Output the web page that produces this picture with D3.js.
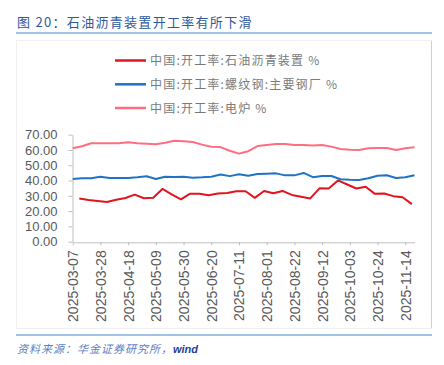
<!DOCTYPE html>
<html>
<head>
<meta charset="utf-8">
<script src="https://cdn.jsdelivr.net/npm/d3@7"></script>
<style>
  body { margin: 0; background: #fff; }
  svg { display: block; }
</style>
</head>
<body>
<svg id="chart"></svg>
<script>
var chartWidth = 444;
var chartHeight = 365;

// weekly dates (Fri) for the steel series
var steelDates = ['2025-03-07', '2025-03-14', '2025-03-21', '2025-03-28', '2025-04-04', '2025-04-11',
  '2025-04-18', '2025-04-25', '2025-05-02', '2025-05-09', '2025-05-16', '2025-05-23', '2025-05-30',
  '2025-06-06', '2025-06-13', '2025-06-20', '2025-06-27', '2025-07-04', '2025-07-11', '2025-07-18',
  '2025-07-25', '2025-08-01', '2025-08-08', '2025-08-15', '2025-08-22', '2025-08-29', '2025-09-05',
  '2025-09-12', '2025-09-19', '2025-09-26', '2025-10-03', '2025-10-10', '2025-10-17', '2025-10-24',
  '2025-10-31', '2025-11-07', '2025-11-14', '2025-11-21'];

// weekly dates (Wed) for asphalt
var asphaltDates = ['2025-03-12', '2025-03-19', '2025-03-26', '2025-04-02', '2025-04-09', '2025-04-16',
  '2025-04-23', '2025-04-30', '2025-05-07', '2025-05-14', '2025-05-21', '2025-05-28', '2025-06-04',
  '2025-06-11', '2025-06-18', '2025-06-25', '2025-07-02', '2025-07-09', '2025-07-16', '2025-07-23',
  '2025-07-30', '2025-08-06', '2025-08-13', '2025-08-20', '2025-08-27', '2025-09-03', '2025-09-10',
  '2025-09-17', '2025-09-24', '2025-10-01', '2025-10-08', '2025-10-15', '2025-10-22', '2025-10-29',
  '2025-11-05', '2025-11-12', '2025-11-19'];

var asphaltValues = [28.2, 27.3, 26.6, 26.0, 27.5, 28.6, 30.8, 28.4, 28.8, 34.5, 31.0, 27.7, 31.4,
  31.4, 30.4, 31.6, 31.9, 33.0, 33.0, 28.7, 33.2, 31.7, 33.2, 30.6, 29.4, 28.3, 34.9,
  34.8, 40.1, 37.4, 34.8, 35.9, 31.3, 31.5, 29.8, 29.1, 24.6];

var rebarValues = [41.0, 41.5, 41.5, 42.5, 41.7, 41.7, 41.7, 42.1, 42.8, 41.0, 42.5, 42.3, 42.5,
  41.9, 42.1, 42.5, 44.0, 42.9, 44.1, 43.2, 44.3, 44.5, 44.7, 43.4, 43.4, 45.0,
  42.2, 43.0, 43.0, 40.9, 40.5, 40.3, 41.5, 43.2, 43.5, 41.7, 42.2, 43.5];

var eafValues = [61.1, 62.4, 64.4, 64.4, 64.4, 64.4, 65.0, 64.4, 64.1, 63.7, 64.8, 66.1, 65.7,
  65.2, 63.5, 62.1, 61.9, 59.5, 57.6, 59.2, 62.6, 63.3, 63.9, 63.9, 63.3, 63.3,
  62.9, 63.3, 62.2, 60.7, 60.2, 60.0, 61.1, 61.3, 61.3, 60.0, 61.1, 61.8];

var seriesNames = ['中国:开工率:石油沥青装置 %', '中国:开工率:螺纹钢:主要钢厂 %', '中国:开工率:电炉 %'];
var seriesColors = ['#e2141f', '#1f73c4', '#ff6e80'];

var xTickLabels = ['2025-03-07', '2025-03-28', '2025-04-18', '2025-05-09', '2025-05-30', '2025-06-20',
  '2025-07-11', '2025-08-01', '2025-08-22', '2025-09-12', '2025-10-03', '2025-10-24', '2025-11-14'];
var yTickValues = [0, 10, 20, 30, 40, 50, 60, 70];

var parseDate = d3.timeParse('%Y-%m-%d');

var svg = d3.select('#chart')
  .attr('width', chartWidth)
  .attr('height', chartHeight);

// frame
svg.append('rect')
  .attr('x', 16.5).attr('y', 40.5)
  .attr('width', 415).attr('height', 288)
  .attr('fill', 'none')
  .attr('stroke', '#f0f0f0');
svg.append('line')
  .attr('x1', 431.5).attr('x2', 431.5)
  .attr('y1', 41).attr('y2', 328)
  .attr('stroke', '#cfcfcf');

// title
svg.append('text')
  .attr('x', 17).attr('y', 27)
  .attr('fill', '#2d5a9e')
  .attr('font-family', '"Noto Sans CJK SC", sans-serif')
  .attr('font-size', 13)
  .attr('letter-spacing', 1.3)
  .text('图 20：石油沥青装置开工率有所下滑');
svg.append('line')
  .attr('x1', 16).attr('x2', 432)
  .attr('y1', 33).attr('y2', 33)
  .attr('stroke', '#7fb0dd').attr('stroke-width', 1.5);

// footer
svg.append('line')
  .attr('x1', 16).attr('x2', 432)
  .attr('y1', 335).attr('y2', 335)
  .attr('stroke', '#7fb0dd').attr('stroke-width', 1.5);
var foot = svg.append('text')
  .attr('x', 17).attr('y', 353)
  .attr('font-family', '"Noto Sans CJK SC", sans-serif')
  .attr('font-size', 11)
  .attr('font-style', 'italic');
foot.append('tspan').attr('fill', '#5a7fc2').attr('letter-spacing', 1).text('资料来源：华金证券研究所，');
foot.append('tspan').attr('fill', '#1e3f96').attr('font-family', 'Liberation Sans, Arial, sans-serif')
  .attr('font-weight', 'bold').text('wind');

// scales
var xScale = d3.scaleTime()
  .domain([parseDate('2025-03-07'), parseDate('2025-11-21')])
  .range([72.7, 414.5]);

var yScale = d3.scaleLinear()
  .domain([0, 70])
  .range([241.7, 134.7]);

// y axis
var yAxis = svg.append('g')
  .attr('transform', 'translate(72.5, 0)')
  .call(d3.axisLeft(yScale)
    .tickValues(yTickValues)
    .tickSizeInner(4)
    .tickSizeOuter(0)
    .tickPadding(11)
    .tickFormat(d3.format('.2f')));
yAxis.select('.domain').attr('stroke', '#bfbfbf');
yAxis.selectAll('.tick line').attr('stroke', '#bfbfbf');
yAxis.selectAll('.tick text')
  .attr('fill', '#595959')
  .attr('font-family', 'Liberation Sans, Arial, sans-serif')
  .attr('font-size', 13);

// x axis
var xAxis = svg.append('g')
  .attr('transform', 'translate(0, 242.3)')
  .call(d3.axisBottom(xScale)
    .tickValues(xTickLabels.map(parseDate))
    .tickSizeInner(3)
    .tickSizeOuter(0)
    .tickFormat(d3.timeFormat('%Y-%m-%d')));
xAxis.select('.domain').attr('stroke', '#bfbfbf');
xAxis.selectAll('.tick line').attr('stroke', '#bfbfbf');
xAxis.selectAll('.tick text')
  .attr('fill', '#595959')
  .attr('font-family', 'Liberation Sans, Arial, sans-serif')
  .attr('font-size', 14)
  .attr('text-anchor', 'end')
  .attr('dy', '0.35em')
  .attr('transform', 'translate(0, 8) rotate(-90)')
  .attr('x', 0)
  .attr('y', 0);

// lines
var line = d3.line()
  .x(function(d) { return xScale(d[0]); })
  .y(function(d) { return yScale(d[1]); });

function zipSeries(dates, values) {
  return dates.map(function(d, i) { return [parseDate(d), values[i]]; });
}

var allSeries = [
  zipSeries(asphaltDates, asphaltValues),
  zipSeries(steelDates, rebarValues),
  zipSeries(steelDates, eafValues)
];

svg.append('g')
  .selectAll('path')
  .data(allSeries)
  .enter().append('path')
    .attr('d', line)
    .attr('fill', 'none')
    .attr('stroke', function(d, i) { return seriesColors[i]; })
    .attr('stroke-width', 2)
    .attr('stroke-linejoin', 'round');

// legend
var legendY = [60.5, 84.3, 108];
var legend = svg.append('g')
  .selectAll('g')
  .data(seriesNames)
  .enter().append('g')
    .attr('transform', function(d, i) { return 'translate(115,' + legendY[i] + ')'; });
legend.append('line')
  .attr('x1', 0).attr('x2', 31)
  .attr('stroke', function(d, i) { return seriesColors[i]; })
  .attr('stroke-width', 2.5);
legend.append('text')
  .attr('x', 35).attr('y', 4.5)
  .attr('fill', '#7a7a7a')
  .attr('font-family', '"Noto Sans CJK SC", sans-serif')
  .attr('font-size', 12)
  .attr('letter-spacing', 1.2)
  .text(function(d) { return d; });
</script>
</body>
</html>
